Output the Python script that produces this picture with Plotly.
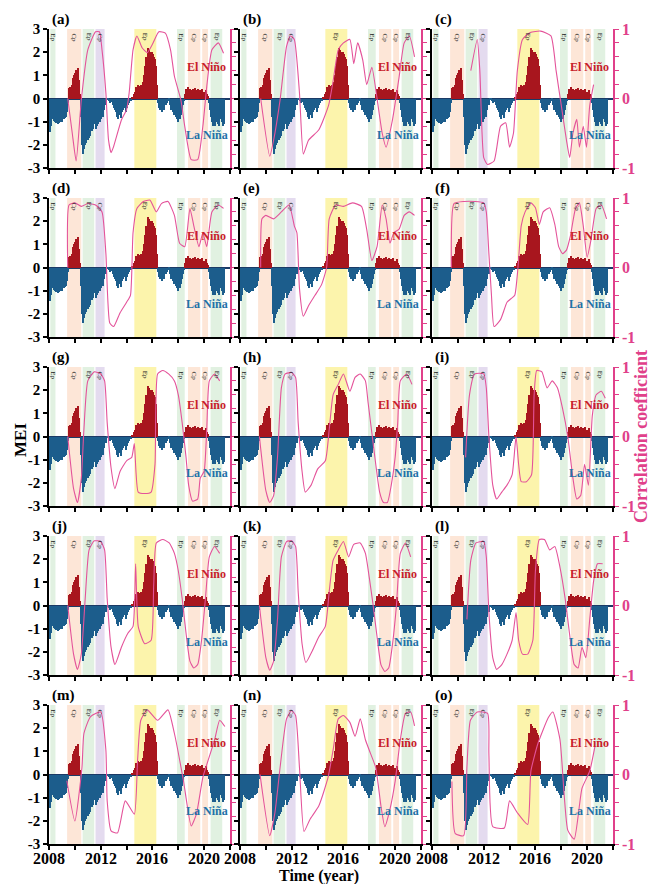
import plotly.graph_objects as go

# ---------------- data ----------------
mei_start_year = 2008
mei_values = [
    # 2008
    -1.45, -1.2, -0.9, -0.85, -0.95, -1.0, -1.05, -1.0, -1.1, -1.05, -1.0, -0.95,
    # 2009
    -1.0, -0.9, -0.85, -0.8, -0.6, -0.2, 0.45, 0.5, 0.4, 0.6, 0.9, 1.0,
    # 2010
    1.1, 1.25, 1.3, 0.8, 0.2, -0.8, -2.0, -2.4, -2.2, -2.0, -1.9, -1.8,
    # 2011
    -1.8, -1.7, -1.6, -1.4, -1.3, -1.0, -1.1, -1.3, -1.2, -1.1, -1.0, -1.0,
    # 2012
    -0.9, -0.7, -0.8, -0.5, -0.3, -0.05, -0.05, -0.1, -0.2, -0.15, -0.1, -0.3,
    # 2013
    -0.4, -0.5, -0.6, -0.8, -0.9, -0.7, -0.85, -0.6, -0.5, -0.3, -0.4, -0.6,
    # 2014
    -0.4, -0.3, -0.2, -0.1, -0.1, 0.05, 0.2, 0.3, 0.5, 0.45, 0.6, 0.55,
    # 2015
    0.5, 0.6, 0.55, 0.7, 1.0, 1.4, 1.8, 2.2, 2.1, 2.0, 1.9, 2.0,
    # 2016
    1.9, 1.8, 1.7, 1.4, 0.6, -0.2, -0.4, -0.5, -0.6, -0.4, -0.5, -0.3,
    # 2017
    -0.3, -0.2, -0.1, -0.05, -0.3, -0.5, -0.4, -0.6, -0.7, -0.8, -0.9, -1.0,
    # 2018
    -0.8, -0.9, -0.7, -0.5, -0.3, -0.1, 0.2, 0.4, 0.3, 0.5, 0.4, 0.3,
    # 2019
    0.35, 0.4, 0.3, 0.45, 0.35, 0.3, 0.4, 0.25, 0.35, 0.3, 0.4, 0.3,
    # 2020
    0.3, 0.35, 0.2, 0.1, -0.2, -0.5, -0.8, -1.0, -1.2, -1.1, -1.2, -1.0,
    # 2021
    -1.1, -1.2, -0.9, -0.8, -1.0, -1.2, -1.1,
]

panel_labels = ["(a)", "(b)", "(c)", "(d)", "(e)", "(f)", "(g)", "(h)",
                "(i)", "(j)", "(k)", "(l)", "(m)", "(n)", "(o)"]

# shaded event periods (start, end, type)
band_start = [2008.1, 2009.4, 2010.6, 2011.6, 2014.6, 2017.9, 2018.75, 2019.85, 2020.5]
band_end = [2008.5, 2010.5, 2011.5, 2012.3, 2016.3, 2018.5, 2019.7, 2020.3, 2021.4]
band_kind = ["g", "o", "g", "p", "y", "g", "o", "o", "g"]
band_text = ["Ep", "Cp", "Ep", "Cp", "Ep", "Ep", "Cp", "Cp", "Ep"]

x_tick_vals = [2008, 2010, 2012, 2014, 2016, 2018, 2020, 2022]
x_label_vals = [2008, 2012, 2016, 2020]
x_label_text = ["2008", "2012", "2016", "2020"]
mei_ticks = [-3, -2, -1, 0, 1, 2, 3]
r_tick_vals = [-1, -0.8, -0.6, -0.4, -0.2, 0, 0.2, 0.4, 0.6, 0.8, 1]
r_tick_text = ["-1", "", "", "", "", "0", "", "", "", "", "1"]

# correlation coefficient curves (year, r)
a_yr = [2009.45, 2009.8, 2010.1, 2010.5, 2011.0, 2011.6, 2011.9, 2012.1, 2012.4, 2012.6, 2012.8, 2013.0,
        2013.6, 2014.0, 2014.2, 2014.5, 2014.8, 2015.2, 2015.6, 2016.0, 2016.5, 2017.0, 2017.4, 2017.7,
        2018.2, 2018.5, 2019.0, 2019.5, 2019.9, 2020.2, 2020.6, 2021.1, 2021.5]
a_r = [0.0, -0.5, -0.9, -0.02, 0.7, 0.96, 0.96, 0.7, 0.08, -0.59, -0.78, -0.69,
       -0.31, -0.16, 0.08, 0.7, 0.9, 0.73, 0.66, 0.78, 0.96, 0.94, 0.7, 0.32,
       -0.02, -0.4, -0.88, -0.88, -0.4, 0.17, 0.7, 0.8, 0.65]
b_yr = [2009.6, 2010.3, 2010.6, 2011.1, 2011.6, 2011.9, 2012.2, 2012.6, 2012.9, 2013.3, 2014.1, 2014.85,
        2015.2, 2015.6, 2016.0, 2016.5, 2016.8, 2017.1, 2017.5, 2017.8, 2018.2, 2018.6, 2019.0, 2019.3,
        2019.8, 2020.3, 2020.7, 2021.1, 2021.5]
b_r = [0.0, -0.83, -0.6, -0.02, 0.75, 0.9, 0.85, 0.08, -0.8, -0.6, -0.45, -0.1,
       0.25, 0.7, 0.8, 0.85, 0.5, 0.8, 0.55, 0.2, 0.45, 0.0, -0.5, -0.7,
       -0.3, 0.3, 0.8, 0.9, 0.6]
c_yr = [2011.0, 2011.5, 2011.7, 2012.0, 2012.3, 2012.8, 2013.3, 2013.7, 2014.0, 2014.3, 2014.6, 2015.0,
        2015.6, 2016.4, 2017.2, 2017.6, 2018.0, 2018.4, 2018.65, 2018.9, 2019.2, 2019.4, 2019.7, 2019.95,
        2020.2, 2020.5]
c_r = [0.4, 0.85, 0.4, -0.85, -0.95, -0.9, -0.4, -0.35, -0.7, -0.5, 0.4, 0.85,
       0.95, 0.97, 0.9, 0.4, -0.1, -0.6, -0.85, -0.5, -0.3, -0.7, -0.4, -0.7,
       -0.1, 0.2]
d_yr = [2009.45, 2009.55, 2010.0, 2010.5, 2011.0, 2011.6, 2012.1, 2012.4, 2012.7, 2013.0, 2013.5, 2014.0,
        2014.3, 2014.5, 2014.8, 2015.3, 2015.8, 2016.3, 2016.7, 2017.2, 2017.7, 2018.1, 2018.5, 2018.9,
        2019.2, 2019.6, 2019.9, 2020.2, 2020.6, 2021.1, 2021.5]
d_r = [0.0, 0.9, 0.93, 0.88, 0.92, 0.9, 0.8, 0.2, -0.8, -0.85, -0.65, -0.5,
       -0.4, 0.5, 0.85, 0.95, 0.97, 0.8, 0.92, 0.95, 0.75, 0.35, 0.3, 0.85,
       0.6, 0.3, 0.5, 0.3, 0.8, 0.9, 0.85]
e_yr = [2009.6, 2009.7, 2010.0, 2010.6, 2011.2, 2011.8, 2012.2, 2012.4, 2012.6, 2012.9, 2013.3, 2013.8,
        2014.3, 2014.7, 2014.9, 2015.4, 2016.0, 2016.7, 2017.4, 2017.8, 2018.2, 2018.6, 2019.0, 2019.3,
        2019.6, 2019.9, 2020.3, 2020.7, 2021.1, 2021.5]
e_r = [0.0, 0.7, 0.75, 0.7, 0.8, 0.9, 0.6, 0.5, -0.3, -0.7, -0.55, -0.4,
       -0.25, 0.0, 0.7, 0.9, 0.88, 0.93, 0.88, 0.55, 0.1, 0.3, 0.9, 0.7,
       0.35, 0.5, 0.55, 0.75, 0.8, 0.75]
f_yr = [2009.5, 2009.7, 2010.5, 2011.3, 2012.0, 2012.2, 2012.4, 2012.6, 2012.8, 2013.3, 2013.8, 2014.1,
        2014.4, 2014.65, 2014.9, 2015.2, 2015.65, 2016.0, 2016.3, 2016.6, 2017.1, 2017.5, 2017.8, 2018.1,
        2018.4, 2018.7, 2019.1, 2019.4, 2019.7, 2020.0, 2020.3, 2020.7, 2021.1, 2021.5]
f_r = [0.0, 0.92, 0.95, 0.95, 0.93, 0.8, 0.2, -0.4, -0.85, -0.75, -0.5, -0.45,
       -0.4, 0.0, 0.6, 0.8, 0.93, 0.86, 0.62, 0.8, 0.86, 0.62, 0.3, 0.2,
       0.25, 0.45, 0.85, 0.93, 0.6, 0.15, 0.4, 0.85, 0.9, 0.7]
g_yr = [2009.45, 2009.9, 2010.2, 2010.5, 2010.7, 2011.0, 2011.5, 2012.0, 2012.3, 2012.5, 2012.8, 2013.1,
        2013.5, 2014.0, 2014.4, 2014.6, 2014.9, 2015.4, 2015.9, 2016.2, 2016.4, 2016.8, 2017.25, 2017.7,
        2018.0, 2018.3, 2018.6, 2018.8, 2019.1, 2019.5, 2019.7, 2020.0, 2020.2, 2020.4, 2020.8, 2021.2]
g_r = [0.0, -0.75, -0.95, -0.6, 0.1, 0.8, 0.93, 0.9, 0.8, 0.2, -0.45, -0.75,
       -0.5, -0.35, -0.3, -0.1, -0.8, -0.82, -0.8, -0.4, 0.9, 0.95, 0.9, 0.8,
       0.6, 0.2, -0.3, -0.7, -0.93, -0.9, -0.6, -0.5, 0.1, 0.8, 0.9, 0.8]
h_yr = [2009.5, 2010.0, 2010.3, 2010.6, 2010.9, 2011.2, 2011.5, 2012.0, 2012.3, 2012.5, 2012.8, 2013.05,
        2013.5, 2014.0, 2014.6, 2014.9, 2015.2, 2015.6, 2016.0, 2016.5, 2016.9, 2017.3, 2017.7, 2017.9,
        2018.2, 2018.5, 2018.8, 2019.1, 2019.4, 2019.7, 2020.0, 2020.2, 2020.4, 2020.9, 2021.3]
h_r = [0.0, -0.78, -0.95, -0.85, -0.3, 0.7, 0.9, 0.92, 0.85, 0.2, -0.5, -0.8,
       -0.7, -0.47, -0.35, 0.1, 0.6, 0.75, 0.9, 0.65, 0.85, 0.9, 0.8, 0.5,
       0.05, -0.4, -0.8, -0.95, -0.95, -0.7, -0.3, 0.2, 0.8, 0.9, 0.75]
i_yr = [2010.6, 2010.9, 2011.3, 2012.0, 2012.2, 2012.4, 2012.7, 2013.0, 2013.4, 2013.8, 2014.2, 2014.5,
        2014.7, 2014.9, 2015.3, 2015.7, 2015.9, 2016.1, 2016.5, 2016.9, 2017.3, 2017.7, 2018.1, 2018.5,
        2018.9, 2019.2, 2019.5, 2019.8, 2020.1, 2020.4, 2020.7, 2021.1, 2021.4]
i_r = [-0.3, 0.6, 0.9, 0.9, 0.7, 0.0, -0.7, -0.9, -0.8, -0.7, -0.55, 0.0,
       -0.4, -0.65, -0.65, -0.55, 0.6, 0.95, 0.93, 0.7, 0.8, 0.7, 0.4, 0.0,
       -0.6, -0.9, -0.85, -0.4, -0.7, 0.3, 0.6, 0.65, 0.55]
j_yr = [2009.45, 2009.9, 2010.2, 2010.5, 2010.8, 2011.1, 2011.5, 2012.0, 2012.3, 2012.5, 2012.8, 2013.1,
        2013.6, 2014.1, 2014.5, 2014.7, 2014.9, 2015.4, 2015.9, 2016.1, 2016.3, 2016.8, 2017.3, 2017.7,
        2018.0, 2018.3, 2018.6, 2018.9, 2019.2, 2019.5, 2019.8, 2020.1, 2020.4, 2020.8, 2021.2]
j_r = [0.0, -0.7, -0.92, -0.7, 0.1, 0.8, 0.93, 0.92, 0.8, 0.1, -0.6, -0.85,
       -0.6, -0.4, -0.3, 0.6, -0.3, -0.55, -0.5, 0.3, 0.9, 0.95, 0.9, 0.75,
       0.5, 0.1, -0.4, -0.8, -0.9, -0.85, -0.5, 0.1, 0.7, 0.85, 0.75]
k_yr = [2009.5, 2010.0, 2010.3, 2010.6, 2010.9, 2011.2, 2011.6, 2012.0, 2012.3, 2012.5, 2012.8, 2013.1,
        2013.6, 2014.1, 2014.6, 2014.9, 2015.2, 2015.6, 2016.0, 2016.4, 2016.8, 2017.3, 2017.7, 2018.0,
        2018.3, 2018.6, 2018.9, 2019.2, 2019.5, 2019.8, 2020.1, 2020.4, 2020.8, 2021.2]
k_r = [0.0, -0.75, -0.93, -0.8, -0.2, 0.7, 0.92, 0.93, 0.85, 0.2, -0.55, -0.82,
       -0.65, -0.45, -0.3, 0.2, 0.65, 0.8, 0.92, 0.7, 0.88, 0.9, 0.75, 0.4,
       0.0, -0.45, -0.85, -0.95, -0.9, -0.55, 0.0, 0.75, 0.9, 0.7]
l_yr = [2010.7, 2011.0, 2011.4, 2012.0, 2012.2, 2012.4, 2012.7, 2013.0, 2013.4, 2013.8, 2014.2, 2014.5,
        2014.7, 2015.0, 2015.4, 2015.8, 2016.0, 2016.3, 2016.7, 2017.1, 2017.5, 2017.9, 2018.3, 2018.7,
        2019.0, 2019.3, 2019.6, 2019.9, 2020.2, 2020.5, 2020.8, 2021.2]
l_r = [-0.2, 0.65, 0.9, 0.92, 0.7, -0.1, -0.75, -0.92, -0.85, -0.7, -0.5, -0.1,
       -0.5, -0.7, -0.7, -0.5, 0.5, 0.95, 0.95, 0.8, 0.85, 0.55, 0.1, -0.5,
       -0.85, -0.9, -0.6, -0.75, -0.2, 0.35, 0.6, 0.6]
m_yr = [2009.38, 2010.0, 2010.55, 2010.7, 2011.2, 2012.0, 2012.4, 2012.5, 2012.8, 2013.3, 2013.9, 2014.6,
        2014.85, 2015.1, 2015.6, 2016.4, 2017.2, 2017.7, 2018.4, 2019.0, 2019.4, 2019.9, 2020.3, 2020.8,
        2021.2, 2021.6]
m_r = [-0.09, -0.67, 0.1, 0.59, 0.83, 0.9, 0.35, -0.38, -0.81, -0.84, -0.38, -0.57,
       0.2, 0.78, 0.93, 0.78, 0.93, 0.59, -0.09, -0.74, -0.57, -0.04, 0.2, 0.49,
       0.78, 0.69]
n_yr = [2009.55, 2010.3, 2010.7, 2011.1, 2011.6, 2012.0, 2012.3, 2012.6, 2012.95, 2013.4, 2014.1, 2014.8,
        2015.2, 2015.6, 2016.0, 2016.5, 2016.9, 2017.3, 2017.7, 2018.1, 2018.5, 2018.9, 2019.2, 2019.6,
        2020.0, 2020.4, 2020.8, 2021.2, 2021.5]
n_r = [0.0, -0.88, -0.55, 0.1, 0.8, 0.92, 0.85, 0.1, -0.82, -0.65, -0.45, -0.05,
       0.35, 0.8, 0.85, 0.75, 0.55, 0.8, 0.5, 0.3, 0.1, -0.45, -0.75, -0.5,
       -0.1, 0.5, 0.88, 0.9, 0.7]
o_yr = [2009.54, 2009.8, 2010.45, 2010.7, 2010.97, 2011.5, 2012.3, 2012.4, 2012.7, 2013.6, 2014.0, 2014.6,
        2015.4, 2015.65, 2016.2, 2017.0, 2017.35, 2017.9, 2018.5, 2019.0, 2019.6, 2020.2, 2020.6]
o_r = [-0.1, -0.85, -0.88, 0.1, 0.78, 0.9, 0.88, 0.3, -0.75, -0.77, -0.38, -0.55,
       -0.72, 0.05, 0.45, 0.82, 0.9, 0.5, -0.8, -0.93, -0.2, 0.05, 0.4]

corr_years = [a_yr, b_yr, c_yr, d_yr, e_yr, f_yr, g_yr, h_yr, i_yr, j_yr, k_yr, l_yr, m_yr, n_yr, o_yr]
corr_vals = [a_r, b_r, c_r, d_r, e_r, f_r, g_r, h_r, i_r, j_r, k_r, l_r, m_r, n_r, o_r]

# ---------------- styles ----------------
W, H = 656, 884
FONT = "Liberation Serif"
RED = "#a8161e"
BLUE = "#1c5d8c"
PINK = "#e4539a"
PINK_AX = "#e0408a"
BAND_COLORS = {
    "g": "rgba(176,218,176,0.38)",
    "o": "rgba(250,196,160,0.42)",
    "p": "rgba(206,190,226,0.55)",
    "y": "rgba(250,238,128,0.65)",
}
col_x0 = [49, 240, 432]
pw = 181
row_top = [29, 198, 367, 536, 705]
ph = 139

mei_x = [mei_start_year + (i + 0.5) / 12 for i in range(len(mei_values))]
mei_colors = [RED if v >= 0 else BLUE for v in mei_values]

fig = go.Figure()
shapes = []
annotations = []

for i in range(15):
    r, c = divmod(i, 3)
    xn = "x" if i == 0 else f"x{i+1}"
    yl = 2 * i + 1
    yr = 2 * i + 2
    yln = "y" if yl == 1 else f"y{yl}"
    yrn = f"y{yr}"
    xdom = [col_x0[c] / W, (col_x0[c] + pw) / W]
    ydom = [1 - (row_top[r] + ph) / H, 1 - row_top[r] / H]

    fig.add_trace(go.Bar(x=mei_x, y=mei_values, width=1 / 12, marker=dict(color=mei_colors, line=dict(width=0)),
                         xaxis=xn, yaxis=yln, showlegend=False))
    fig.add_trace(go.Scatter(x=corr_years[i], y=corr_vals[i], mode="lines",
                             line=dict(color=PINK, width=1.1, shape="spline", smoothing=0.5),
                             xaxis=xn, yaxis=yrn, showlegend=False, cliponaxis=True))

    fig.layout["xaxis" if i == 0 else f"xaxis{i+1}"] = dict(
        domain=xdom, anchor=yln, range=[2008, 2022], tickvals=x_tick_vals,
        ticktext=[""] * len(x_tick_vals),
        ticks="outside", ticklen=4, tickwidth=1.5, tickcolor="black", automargin=False,
        showline=True, linecolor="black", linewidth=1.5, showgrid=False, zeroline=False,
    )
    fig.layout["yaxis" if yl == 1 else f"yaxis{yl}"] = dict(
        domain=ydom, anchor=xn, range=[-3, 3], tickvals=mei_ticks,
        ticktext=[str(t) for t in mei_ticks] if c == 0 else [""] * len(mei_ticks),
        ticks="outside", ticklen=4, tickwidth=1.5, tickcolor="black", automargin=False,
        showline=True, linecolor="black", linewidth=1.5, showgrid=False,
        zeroline=True, zerolinecolor="#1b3a66", zerolinewidth=2,
        tickfont=dict(family=FONT, size=15, color="black", weight="bold"),
    )
    fig.layout[f"yaxis{yr}"] = dict(
        domain=ydom, anchor=xn, overlaying=yln, side="right", range=[-1, 1],
        tickvals=r_tick_vals, ticktext=r_tick_text if c == 2 else [""] * len(r_tick_vals),
        ticks="outside", ticklen=4, tickwidth=1.2, tickcolor=PINK_AX, automargin=False,
        showline=True, linecolor=PINK_AX, linewidth=1.5, showgrid=False, zeroline=False,
        tickfont=dict(family=FONT, size=16, color=PINK_AX, weight="bold"),
    )

    if r == 4:
        for xv, xt in zip(x_label_vals, x_label_text):
            annotations.append(dict(x=xv, y=1 - 858 / H, xref=xn, yref="paper", text=xt, showarrow=False,
                                    xanchor="center", yanchor="middle",
                                    font=dict(family=FONT, size=16, color="black", weight="bold")))

    for s, e, k, t in zip(band_start, band_end, band_kind, band_text):
        shapes.append(dict(type="rect", xref=xn, yref=f"{yln} domain", x0=s, x1=e, y0=0, y1=1,
                           fillcolor=BAND_COLORS[k], line=dict(width=0), layer="below"))
        annotations.append(dict(x=(s + e) / 2, y=0.985, xref=xn, yref=f"{yln} domain", text=t,
                                showarrow=False, textangle=90, xanchor="center", yanchor="top",
                                font=dict(family=FONT, size=7, color="#222")))
    annotations.append(dict(x=2020.2, y=1.38, xref=xn, yref=yln, text="El Niño", showarrow=False,
                            xanchor="center", yanchor="middle",
                            font=dict(family=FONT, size=12, color="#c8202a", weight="bold")))
    annotations.append(dict(x=2020.2, y=-1.56, xref=xn, yref=yln, text="La Niña", showarrow=False,
                            xanchor="center", yanchor="middle",
                            font=dict(family=FONT, size=12, color="#1f72a8", weight="bold")))
    annotations.append(dict(x=(col_x0[c] + 1) / W, y=1 - (row_top[r] - 10) / H, xref="paper", yref="paper",
                            text=panel_labels[i], showarrow=False, xanchor="left", yanchor="middle",
                            font=dict(family=FONT, size=15, color="black", weight="bold")))

annotations.append(dict(x=20 / W, y=1 - 440 / H, xref="paper", yref="paper", text="MEI", showarrow=False,
                        textangle=-90, xanchor="center", yanchor="middle",
                        font=dict(family=FONT, size=17, color="black", weight="bold")))
annotations.append(dict(x=641 / W, y=1 - 437 / H, xref="paper", yref="paper", text="Correlation coefficient",
                        showarrow=False, textangle=-90, xanchor="center", yanchor="middle",
                        font=dict(family=FONT, size=18, color=PINK_AX, weight="bold")))
annotations.append(dict(x=319 / W, y=1 - 876 / H, xref="paper", yref="paper", text="Time (year)",
                        showarrow=False, xanchor="center", yanchor="middle",
                        font=dict(family=FONT, size=16, color="black", weight="bold")))

fig.update_layout(width=W, height=H, margin=dict(l=0, r=0, t=0, b=0, autoexpand=False),
                  paper_bgcolor="white", plot_bgcolor="white", bargap=0,
                  shapes=shapes, annotations=annotations, showlegend=False)

fig.write_html("out.html")
